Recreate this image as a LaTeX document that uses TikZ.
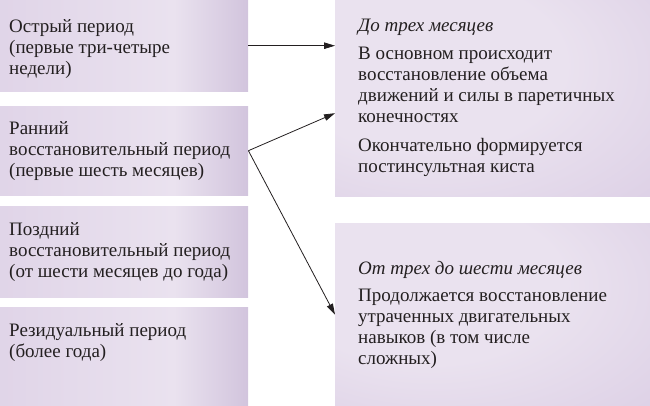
\documentclass[tikz,border=0pt]{standalone}
\usepackage{fontspec}
\setmainfont{Liberation Serif}
\usetikzlibrary{arrows.meta}

\definecolor{lavlight}{HTML}{EAE2EF}
\definecolor{lavmid}{HTML}{D9CBE3}
\definecolor{lavdark}{HTML}{A993BF}
\definecolor{ink}{HTML}{231F20}

\pgfdeclarehorizontalshading{leftshade}{100bp}{color(0bp)=(lavmid); color(60bp)=(lavlight); color(100bp)=(lavdark)}
\pgfdeclareradialshading{rightshade}{\pgfpoint{-15bp}{12bp}}{color(0bp)=(lavlight); color(22bp)=(lavlight); color(52bp)=(lavmid); color(76bp)=(lavdark)}

\tikzset{
  lbox/.style={shading=leftshade, minimum width=248pt, inner sep=0pt, anchor=north west},
  rbox/.style={shading=rightshade, minimum width=315pt, inner sep=0pt, anchor=north west},
  btext/.style={anchor=north west, inner sep=0pt, align=left, text=ink,
    font=\fontsize{19}{21}\selectfont},
  arrow/.style={draw=ink, line width=0.8pt, -{Triangle[length=11pt,width=6.5pt]}}
}

\begin{document}
\begin{tikzpicture}[x=1pt,y=-1pt]
  \useasboundingbox (0,0) rectangle (650,406);

  % left column: periods
  \node[lbox, minimum height=91pt] (acute) at (0,0) {};
  \node[lbox, minimum height=89pt] (early) at (0,106) {};
  \node[lbox, minimum height=91pt] (late) at (0,206) {};
  \node[lbox, minimum height=99pt] (resid) at (0,307) {};
  \node[btext] (acutetxt) at (9,19) {Острый период\\(первые три-четыре\\недели)};
  \node[btext] (earlytxt) at (9,121) {Ранний\\восстановительный период\\(первые шесть месяцев)};
  \node[btext] (latetxt) at (9,222) {Поздний\\восстановительный период\\(от шести месяцев до года)};
  \node[btext] (residtxt) at (9,323) {Резидуальный период\\(более года)};

  % right column: outcomes
  \node[rbox, minimum height=196pt] (three) at (335,0) {};
  \node[rbox, minimum height=183pt] (six) at (335,223) {};
  \node[btext] (threetxt) at (358,19) {\textit{До трех месяцев}\\[7pt]
    В основном происходит\\восстановление объема\\движений и силы в паретичных\\конечностях\\[8pt]
    Окончательно формируется\\постинсультная киста};
  \node[btext] (sixtxt) at (358,261) {\textit{От трех до шести месяцев}\\[6pt]
    Продолжается восстановление\\утраченных двигательных\\навыков (в том числе\\сложных)};

  % arrows
  \draw[arrow] (acute.east) -- (three.west |- acute.east);
  \draw[arrow] (early.east) -- ([yshift=-15pt]three.west);
  \draw[arrow] (early.east) -- (six.west);
\end{tikzpicture}
\end{document}
